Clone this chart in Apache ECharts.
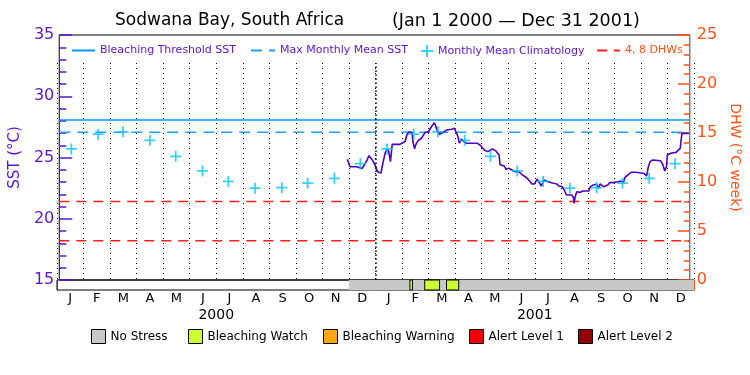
<!DOCTYPE html>
<html><head><meta charset="utf-8">
<script src="https://cdn.jsdelivr.net/npm/echarts@6/dist/echarts.min.js"></script>
<style>html,body{margin:0;padding:0;background:#fff}#c{width:750px;height:375px}</style>
</head><body><div id="c"></div>
<script>
const monthLabels = ['J','F','M','A','M','J','J','A','S','O','N','D','J','F','M','A','M','J','J','A','S','O','N','D'];
const yearLabels = ['2000','2001'];
const rangeStart = '2000-01-01';
const rangeEnd = '2002-01-01';
const yearBoundaries = ['2001-01-01'];

const sstDates = ['2000-11-30','2000-12-01','2000-12-03','2000-12-11','2000-12-13','2000-12-17','2000-12-19','2000-12-23','2000-12-25','2000-12-27','2000-12-29',
'2001-01-01','2001-01-03','2001-01-05','2001-01-08','2001-01-09','2001-01-11','2001-01-13','2001-01-15','2001-01-17','2001-01-18','2001-01-19','2001-01-20','2001-01-21','2001-01-26','2001-01-28','2001-01-30',
'2001-02-01','2001-02-05','2001-02-07','2001-02-09','2001-02-13','2001-02-14','2001-02-16','2001-02-17','2001-02-20','2001-02-24','2001-02-26','2001-02-28',
'2001-03-04','2001-03-06','2001-03-08','2001-03-11','2001-03-12','2001-03-14','2001-03-17','2001-03-19','2001-03-22','2001-03-25','2001-03-31',
'2001-04-03','2001-04-05','2001-04-07','2001-04-09','2001-04-11','2001-04-13','2001-04-17','2001-04-30',
'2001-05-04','2001-05-08','2001-05-12','2001-05-14','2001-05-17','2001-05-21','2001-05-25','2001-05-26','2001-05-31',
'2001-06-02','2001-06-05','2001-06-09','2001-06-13','2001-06-17','2001-06-21','2001-06-26','2001-06-30',
'2001-07-02','2001-07-05','2001-07-08','2001-07-10','2001-07-13','2001-07-16','2001-07-21','2001-07-27','2001-07-31',
'2001-08-02','2001-08-06','2001-08-09','2001-08-11','2001-08-17','2001-08-19','2001-08-20','2001-08-21','2001-08-23','2001-08-27','2001-08-30',
'2001-09-06','2001-09-08','2001-09-11','2001-09-15','2001-09-17','2001-09-19','2001-09-21','2001-09-23','2001-09-28','2001-09-30',
'2001-10-04','2001-10-06','2001-10-10','2001-10-13','2001-10-16','2001-10-18','2001-10-22','2001-10-25','2001-10-31',
'2001-11-09','2001-11-12','2001-11-13','2001-11-14','2001-11-16','2001-11-19','2001-11-28',
'2001-12-01','2001-12-03','2001-12-05','2001-12-06','2001-12-10','2001-12-16','2001-12-17','2001-12-21','2001-12-22','2001-12-23','2001-12-31'];
const sstValues = [24.85,24.66,24.25,24.25,24.10,24.10,24.30,24.80,25.15,25.00,24.80,
24.40,24.00,23.80,23.73,24.10,24.80,25.40,25.67,25.50,25.07,24.66,25.34,26.07,26.07,25.94,26.07,
26.16,26.30,26.84,27.06,27.06,26.30,25.70,26.00,26.37,26.57,26.70,27.03,
27.10,27.24,27.57,27.84,27.65,27.24,26.90,27.02,27.10,27.24,27.30,
27.38,27.10,26.76,26.16,26.50,26.43,26.16,26.16,
25.94,25.60,25.48,25.40,25.70,25.56,25.20,24.40,24.30,
24.04,24.12,23.98,23.84,23.84,23.57,23.35,23.02,
22.84,22.84,23.24,23.02,22.67,23.16,23.02,22.90,22.84,
22.67,22.62,22.27,21.94,21.94,21.75,21.26,21.75,22.20,22.15,22.27,
22.27,22.62,22.76,22.81,22.50,22.84,22.70,22.62,22.76,22.95,
22.95,22.81,23.02,23.08,22.95,23.38,23.63,23.79,23.79,
23.70,23.49,23.84,24.25,24.66,24.80,24.74,
24.40,23.90,24.25,25.20,25.34,25.42,25.53,25.75,26.43,26.97,26.97];

const climDates = ['2000-01-15','2000-02-15','2000-03-15','2000-04-15','2000-05-15','2000-06-15','2000-07-15','2000-08-15','2000-09-15','2000-10-15','2000-11-15','2000-12-15',
'2001-01-15','2001-02-15','2001-03-15','2001-04-15','2001-05-15','2001-06-15','2001-07-15','2001-08-15','2001-09-15','2001-10-15','2001-11-15','2001-12-15'];
const climValues = [25.7,26.9,27.1,26.4,25.1,23.9,23.05,22.5,22.55,22.9,23.3,24.5,
25.7,26.9,27.1,26.4,25.1,23.9,23.05,22.5,22.55,22.9,23.3,24.5];

const bleachingThreshold = 28.06;
const maxMonthlyMean = 27.06;
const dhwLevels = [4, 8];

const statusStart = ['2000-12-01','2001-02-09','2001-02-12','2001-02-26','2001-03-15','2001-03-23','2001-04-06'];
const statusEnd   = ['2001-02-09','2001-02-12','2001-02-26','2001-03-15','2001-03-23','2001-04-06','2002-01-01'];
const statusLevel = [0,1,0,1,0,1,0];
const statusNames = ['No Stress','Bleaching Watch','Bleaching Warning','Alert Level 1','Alert Level 2'];
const statusColors = ['#c8c8c8','#ccff33','#fca80c','#f00000','#960000'];

const PURPLE = '#5a14d2';
const ORANGE = '#ff5014';
const FONT = 'DejaVu Sans';

const chart = echarts.init(document.getElementById('c'), null, {renderer:'canvas'});

const statusSeries = statusNames.map((name, lv) => ({
  name: name, type: 'custom', xAxisIndex: 1, yAxisIndex: 2,
  itemStyle: {color: statusColors[lv]},
  encode: {x: [0, 1]},
  silent: true,
  data: statusLevel.map((l, i) => l === lv ? [Date.parse(statusStart[i]), Date.parse(statusEnd[i])] : null).filter(d => d),
  renderItem: function (params, api) {
    const p0 = api.coord([api.value(0), 1]);
    const p1 = api.coord([api.value(1), 0]);
    return {type: 'rect', shape: {x: p0[0], y: p0[1], width: p1[0] - p0[0], height: p1[1] - p0[1]},
      style: {fill: statusColors[lv], stroke: lv > 0 ? '#000' : null, lineWidth: 1}};
  }
}));

const topLegend = (name, left, w, color, hideSymbol) => ({
  data: [name], left: left, top: 45, itemWidth: w, itemHeight: 12, selectedMode: false,
  itemStyle: hideSymbol ? {opacity: 0} : {},
  textStyle: {color: color, fontFamily: FONT, fontSize: 11}, padding: 0
});
const botLegend = (name, left) => ({
  data: [name], left: left, top: 329, itemWidth: 14, itemHeight: 14, selectedMode: false,
  icon: 'rect', itemStyle: {borderColor: '#000', borderWidth: 1},
  textStyle: {color: '#000', fontFamily: FONT, fontSize: 12}, padding: 0
});

chart.setOption({
  animation: false,
  backgroundColor: '#fff',
  title: [
    {text: 'Sodwana Bay, South Africa', left: 115, top: 12, textStyle: {fontFamily: FONT, fontSize: 17, fontWeight: 'normal', color: '#000'}, padding: 0},
    {text: '(Jan 1 2000 \u2014 Dec 31 2001)', left: 392, top: 12, textStyle: {fontFamily: FONT, fontSize: 17.5, fontWeight: 'normal', color: '#000'}, padding: 0}
  ],
  legend: [
    topLegend('Bleaching Threshold SST', 71, 23, PURPLE, true),
    topLegend('Max Monthly Mean SST', 250, 24, PURPLE, true),
    topLegend('Monthly Mean Climatology', 421, 12, PURPLE, false),
    topLegend('4, 8 DHWs', 596, 23, ORANGE, true),
    botLegend('No Stress', 91),
    botLegend('Bleaching Watch', 188),
    botLegend('Bleaching Warning', 323),
    botLegend('Alert Level 1', 469),
    botLegend('Alert Level 2', 578)
  ],
  grid: [
    {left: 57, right: 56, top: 35, bottom: 95, show: true, borderColor: '#000', borderWidth: 1, backgroundColor: 'transparent'},
    {left: 57, right: 56, top: 280, bottom: 85, show: true, borderColor: '#000', borderWidth: 1, backgroundColor: 'transparent'},
    {left: 57, right: 56, top: 63, bottom: 95}
  ],
  xAxis: [
    {type: 'time', gridIndex: 0, min: rangeStart, max: rangeEnd, show: false},
    {type: 'time', gridIndex: 1, min: rangeStart, max: rangeEnd, show: false},
    {type: 'category', gridIndex: 2, data: monthLabels, boundaryGap: true, position: 'bottom',
      axisLine: {show: false}, axisTick: {show: false},
      axisLabel: {interval: 0, margin: 12, color: '#000', fontFamily: FONT, fontSize: 13},
      splitLine: {show: true, interval: 0, lineStyle: {color: '#000', width: 1, type: [1, 4]}}},
    {type: 'category', gridIndex: 2, data: yearLabels, boundaryGap: true, position: 'bottom',
      axisLine: {show: false}, axisTick: {show: false}, splitLine: {show: false},
      axisLabel: {interval: 0, margin: 28, color: '#000', fontFamily: FONT, fontSize: 14}},
    {type: 'time', gridIndex: 2, min: rangeStart, max: rangeEnd, show: false}
  ],
  yAxis: [
    {type: 'value', gridIndex: 0, position: 'left', min: 15, max: 35, interval: 5,
      name: 'SST (\u00b0C)', nameLocation: 'middle', nameGap: 33, nameRotate: 90,
      nameTextStyle: {color: PURPLE, fontFamily: FONT, fontSize: 15},
      axisLine: {show: true, lineStyle: {color: PURPLE, width: 1}},
      axisTick: {show: true, inside: true, length: 13, lineStyle: {color: PURPLE, width: 1.5}},
      minorTick: {show: true, splitNumber: 5, length: 7, lineStyle: {color: PURPLE, width: 1.5}},
      axisLabel: {color: PURPLE, fontFamily: FONT, fontSize: 16, margin: 5},
      splitLine: {show: false}},
    {type: 'value', gridIndex: 0, position: 'right', min: 0, max: 25, interval: 5,
      name: 'DHW (\u00b0C week)', nameLocation: 'middle', nameGap: 31, nameRotate: -90,
      nameTextStyle: {color: ORANGE, fontFamily: FONT, fontSize: 14},
      axisLine: {show: true, lineStyle: {color: ORANGE, width: 1}},
      axisTick: {show: true, inside: true, length: 12, lineStyle: {color: ORANGE, width: 1.5}},
      minorTick: {show: true, splitNumber: 5, length: 6, lineStyle: {color: ORANGE, width: 1.5}},
      axisLabel: {color: ORANGE, fontFamily: FONT, fontSize: 16, margin: 7},
      splitLine: {show: false}},
    {type: 'value', gridIndex: 1, position: 'left', min: 0, max: 1,
      axisLine: {show: true, lineStyle: {color: PURPLE}}, axisTick: {show: false}, axisLabel: {show: false}, splitLine: {show: false}},
    {type: 'value', gridIndex: 1, position: 'right', min: 0, max: 1,
      axisLine: {show: true, lineStyle: {color: ORANGE}}, axisTick: {show: false}, axisLabel: {show: false}, splitLine: {show: false}},
    {type: 'value', gridIndex: 2, show: false, min: 0, max: 1}
  ],
  series: [
    {name: 'Bleaching Threshold SST', type: 'line', xAxisIndex: 0, yAxisIndex: 0, symbol: 'none', silent: true, z: 3,
      lineStyle: {color: '#0a96ff', width: 1.5}, itemStyle: {color: '#0a96ff'},
      data: [[rangeStart, bleachingThreshold], [rangeEnd, bleachingThreshold]]},
    {name: 'Max Monthly Mean SST', type: 'line', xAxisIndex: 0, yAxisIndex: 0, symbol: 'none', silent: true, z: 3,
      lineStyle: {color: '#1ea0ff', width: 1.5, type: [11, 7]}, itemStyle: {color: '#1ea0ff'},
      data: [[rangeStart, maxMonthlyMean], [rangeEnd, maxMonthlyMean]]},
    ...dhwLevels.map(v => ({name: '4, 8 DHWs', type: 'line', xAxisIndex: 0, yAxisIndex: 1, symbol: 'none', silent: true, z: 3,
      lineStyle: {color: '#ff1e1e', width: 1.5, type: [10, 7]}, itemStyle: {color: '#ff1e1e'},
      data: [[rangeStart, v], [rangeEnd, v]]})),
    {name: 'SST', type: 'line', xAxisIndex: 0, yAxisIndex: 0, symbol: 'none', silent: true, z: 4,
      lineStyle: {color: '#5000c0', width: 1.6}, itemStyle: {color: '#5000c0'},
      data: sstDates.map((d, i) => [d, sstValues[i]])},
    {name: 'Monthly Mean Climatology', type: 'scatter', xAxisIndex: 0, yAxisIndex: 0, silent: true, z: 5,
      symbol: 'path://M4.2,0h1.6v10h-1.6z M0,4.2h10v1.6h-10z', symbolSize: 11, symbolKeepAspect: true,
      itemStyle: {color: '#00c3ff'},
      data: climDates.map((d, i) => [d, climValues[i]])},
    ...statusSeries,
    {name: 'yearline', type: 'line', xAxisIndex: 4, yAxisIndex: 4, data: [], silent: true,
      markLine: {symbol: 'none', silent: true, label: {show: false},
        lineStyle: {color: '#000', width: 1.5, type: [1.5, 2.5]},
        data: yearBoundaries.map(d => ({xAxis: d}))}}
  ]
});
</script></body></html>
